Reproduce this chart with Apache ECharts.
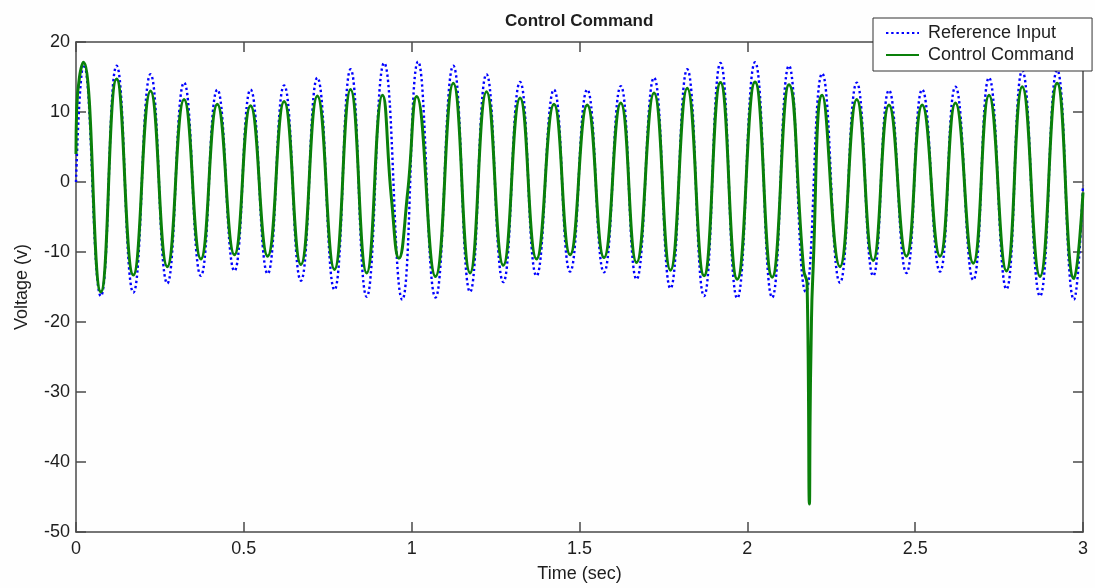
<!DOCTYPE html>
<html>
<head>
<meta charset="utf-8">
<title>Control Command</title>
<script src="https://cdn.jsdelivr.net/npm/echarts@6/dist/echarts.min.js"></script>
<style>
  html, body { margin: 0; padding: 0; background: #fefefe; }
  #chart { width: 1095px; height: 588px; }
</style>
</head>
<body>
<div id="chart"></div>
<script>
// Reference input: times (s) of each crest/trough and the voltage there
const refTime = [
  0.000, 0.023, 0.074, 0.121, 0.171, 0.222, 0.272, 0.322, 0.372, 0.421,
  0.472, 0.520, 0.571, 0.620, 0.670, 0.719, 0.770, 0.818, 0.866, 0.918,
  0.972, 1.019, 1.071, 1.124, 1.174, 1.223, 1.273, 1.323, 1.372, 1.424,
  1.472, 1.523, 1.573, 1.623, 1.670, 1.722, 1.771, 1.821, 1.871, 1.920,
  1.970, 2.023, 2.074, 2.124, 2.174, 2.223, 2.276, 2.326, 2.375, 2.422,
  2.474, 2.521, 2.574, 2.620, 2.673, 2.720, 2.772, 2.819, 2.872, 2.923,
  2.973, 3.000
];
const refInput = [
  0.0, 16.8, -16.3, 16.6, -15.8, 15.4, -14.5, 14.2, -13.4, 13.2,
  -12.7, 13.2, -13.1, 13.8, -14.1, 14.9, -15.4, 16.1, -16.4, 17.0,
  -16.8, 17.2, -16.5, 16.6, -15.7, 15.4, -14.3, 14.3, -13.4, 13.2,
  -12.8, 13.2, -12.9, 13.7, -13.9, 14.9, -15.2, 16.1, -16.3, 17.0,
  -16.6, 17.1, -16.5, 16.6, -15.7, 15.5, -14.4, 14.2, -13.4, 13.1,
  -13.0, 13.2, -12.8, 13.6, -14.0, 14.9, -15.3, 15.9, -16.3, 16.0,
  -16.8, -0.5
];

// Control command: crests, troughs, the disturbance near 0.94 s and the spike near 2.18 s
const cmdTime = [
  0.000, 0.002, 0.022, 0.074, 0.121, 0.171, 0.222, 0.272, 0.322, 0.372,
  0.421, 0.472, 0.520, 0.571, 0.620, 0.670, 0.719, 0.770, 0.818, 0.866,
  0.913, 0.940, 0.962, 0.988, 1.015, 1.071, 1.124, 1.174, 1.223, 1.273,
  1.323, 1.372, 1.424, 1.472, 1.523, 1.573, 1.623, 1.670, 1.722, 1.771,
  1.821, 1.871, 1.920, 1.970, 2.023, 2.074, 2.124, 2.168, 2.178, 2.185,
  2.187, 2.190, 2.195, 2.223, 2.276, 2.326, 2.375, 2.422, 2.474, 2.521,
  2.574, 2.620, 2.673, 2.720, 2.772, 2.819, 2.872, 2.923, 2.973, 3.000
];
const ctrlCmd = [
  4.0, 10.5, 17.1, -15.7, 14.7, -13.3, 13.0, -12.1, 11.8, -11.0,
  11.1, -10.4, 10.9, -10.6, 11.5, -11.8, 12.3, -12.5, 13.2, -13.0,
  12.4, -2.5, -10.9, -1.5, 12.2, -13.5, 14.1, -13.0, 12.9, -11.9,
  12.0, -11.0, 11.1, -10.4, 11.0, -10.8, 11.3, -11.5, 12.7, -12.6,
  13.4, -13.4, 14.2, -13.9, 14.3, -13.6, 13.9, -12.6, -14.5, -46.0,
  -33.7, -23.0, -13.5, 12.4, -12.1, 11.8, -11.2, 11.0, -10.6, 11.0,
  -10.6, 11.3, -11.6, 12.4, -12.7, 13.6, -13.5, 14.1, -13.8, -1.5
];

// Axis ticks
const xTicks = { min: 0, max: 3, step: 0.5 };
const yTicks = { min: -50, max: 20, step: 10 };

const pairs = (xs, ys) => xs.map((x, i) => [x, ys[i]]);

const FONT = '"Liberation Sans", Arial, sans-serif';
const AXIS_COLOR = '#4a4a4a';
const TEXT_COLOR = '#1e1e1e';

const baseAxis = {
  axisLine: { show: true, onZero: false, lineStyle: { color: AXIS_COLOR, width: 1.5 } },
  axisTick: { show: true, inside: true, length: 10, lineStyle: { color: AXIS_COLOR, width: 1.5 } },
  splitLine: { show: false },
  axisLabel: { color: TEXT_COLOR, fontSize: 18, fontFamily: FONT }
};

const chart = echarts.init(document.getElementById('chart'), null, { renderer: 'canvas' });

chart.setOption({
  animation: false,
  backgroundColor: '#fefefe',
  title: {
    text: 'Control Command',
    left: 500,
    top: 8,
    textStyle: { fontFamily: FONT, fontSize: 17, fontWeight: 'bold', color: TEXT_COLOR }
  },
  legend: {
    orient: 'vertical',
    left: 873,
    top: 18,
    z: 10,
    backgroundColor: '#ffffff',
    borderColor: '#333333',
    borderWidth: 1,
    borderRadius: 0,
    padding: [6, 18, 7, 12],
    itemWidth: 33,
    itemHeight: 3,
    itemGap: 4,
    itemStyle: { opacity: 0 },
    textStyle: { fontFamily: FONT, fontSize: 18, color: TEXT_COLOR, padding: [0, 0, 0, 4] },
    data: ['Reference Input', 'Control Command']
  },
  grid: { left: 76, right: 12, top: 42, bottom: 56, containLabel: false },
  xAxis: [
    Object.assign({}, baseAxis, {
      type: 'value',
      min: xTicks.min, max: xTicks.max, interval: xTicks.step,
      name: 'Time (sec)',
      nameLocation: 'middle',
      nameGap: 33,
      nameTextStyle: { fontFamily: FONT, fontSize: 18, color: TEXT_COLOR },
      axisLabel: Object.assign({}, baseAxis.axisLabel, { margin: 8 })
    }),
    Object.assign({}, baseAxis, {
      type: 'value', position: 'top',
      min: xTicks.min, max: xTicks.max, interval: xTicks.step,
      axisLabel: { show: false }
    })
  ],
  yAxis: [
    Object.assign({}, baseAxis, {
      type: 'value',
      min: yTicks.min, max: yTicks.max, interval: yTicks.step,
      name: 'Voltage (v)',
      nameLocation: 'middle',
      nameGap: 45,
      nameTextStyle: { fontFamily: FONT, fontSize: 18, color: TEXT_COLOR },
      axisLabel: Object.assign({}, baseAxis.axisLabel, { margin: 6 })
    }),
    Object.assign({}, baseAxis, {
      type: 'value', position: 'right',
      min: yTicks.min, max: yTicks.max, interval: yTicks.step,
      axisLabel: { show: false }
    })
  ],
  series: [
    {
      name: 'Reference Input',
      type: 'line',
      data: pairs(refTime, refInput),
      smooth: 0.5,
      symbol: 'none',
      lineStyle: { color: '#0000ff', width: 2.4, type: [2.4, 2.8] },
      itemStyle: { color: '#0000ff' },
      z: 2
    },
    {
      name: 'Control Command',
      type: 'line',
      data: pairs(cmdTime, ctrlCmd),
      smooth: 0.5,
      symbol: 'none',
      lineStyle: { color: '#0a800a', width: 3 },
      itemStyle: { color: '#0a800a' },
      z: 3
    }
  ]
});
</script>
</body>
</html>
